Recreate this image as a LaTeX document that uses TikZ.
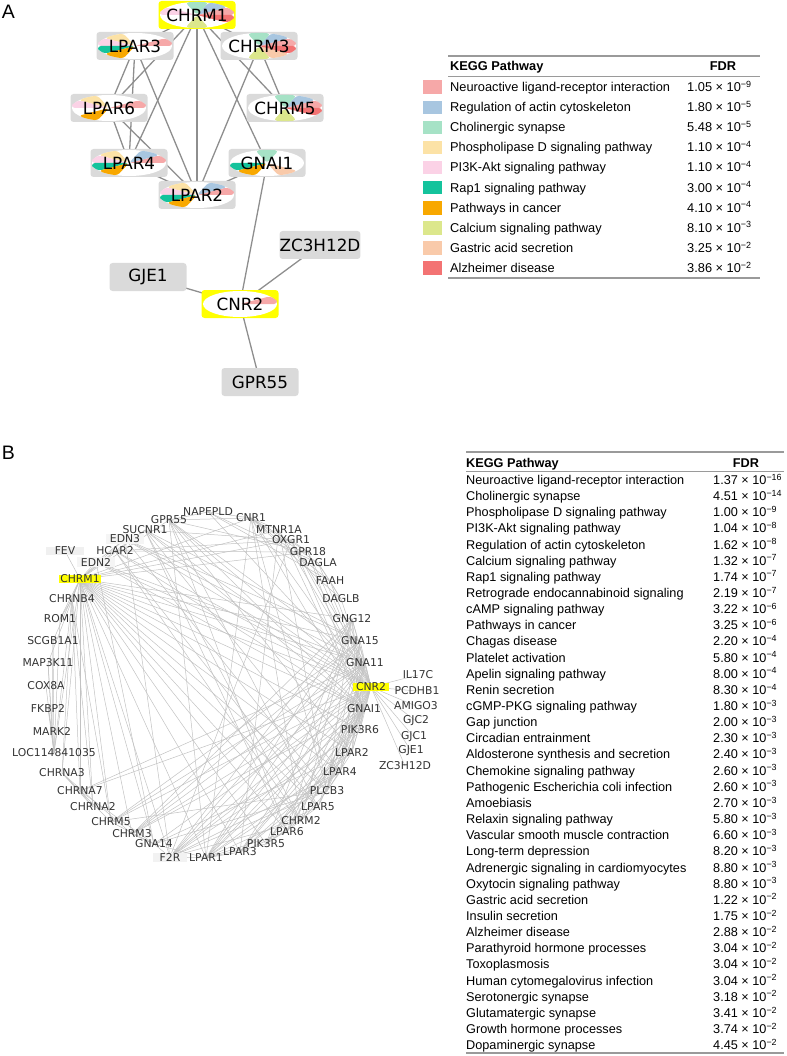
\documentclass[tikz,border=0pt]{standalone}
\usepackage{fontspec}
\setmainfont{Liberation Sans}
\newfontfamily\genefont{DejaVu Sans}
\usetikzlibrary{backgrounds}
\definecolor{boxgray}{HTML}{DADADA}
\definecolor{selyellow}{HTML}{FFFF00}
\definecolor{edgegray}{HTML}{8E8E8E}
\definecolor{netgray}{HTML}{C2C2C2}
\definecolor{rulegray}{HTML}{9A9A9A}
\definecolor{kp0}{HTML}{F6A8A8}
\definecolor{kp1}{HTML}{A8C6E0}
\definecolor{kp2}{HTML}{A6E2C6}
\definecolor{kp3}{HTML}{FCE2A6}
\definecolor{kp4}{HTML}{FBD2E6}
\definecolor{kp5}{HTML}{14C39C}
\definecolor{kp6}{HTML}{F8A800}
\definecolor{kp7}{HTML}{DCE78C}
\definecolor{kp8}{HTML}{F9CAAA}
\definecolor{kp9}{HTML}{F37373}

\begin{document}
\begin{tikzpicture}[x=1pt, y=-1pt,
  keggbox/.style={rectangle, rounded corners=3pt, fill=boxgray, minimum width=77pt,
    minimum height=28pt, inner sep=0pt, font=\genefont\fontsize{16.8}{18}\selectfont},
  selbox/.style={fill=selyellow},
  keggpie/.style={path picture={
    \fill[white] (path picture bounding box.center) ellipse[x radius=37pt, y radius=13pt];
    \foreach \k in {#1}
      \fill[fill=kp\k] (path picture bounding box.center)
        -- ++({cos(36*\k)*37pt},{sin(36*\k)*13pt})
        arc[start angle=36*\k, delta angle=36, x radius=37pt, y radius=13pt] -- cycle;}},
  aedge/.style={edgegray, line width=1.3pt},
  bedge/.style={netgray, line width=0.5pt},
  blabel/.style={inner sep=0.5pt, text=black!80, font=\genefont\fontsize{10.8}{12}\selectfont},
  tab/.style={anchor=base west, inner sep=0pt, font=\fontsize{12.8}{15}\selectfont},
  tabb/.style={anchor=base west, inner sep=0pt, font=\fontsize{12.7}{14}\selectfont},
  panel/.style={font=\fontsize{19.5}{22}\selectfont}]
  \useasboundingbox (0,0) rectangle (786,1056);

  % ---- panel A: network
  \node[panel] (labA) at (8.5,12) {A};
  \node[keggbox, selbox, keggpie={0,1,2,4,7,9}] (CHRM1) at (197,15) {CHRM1};
  \node[keggbox, keggpie={0,3,4,5,6}] (LPAR3) at (135,46) {LPAR3};
  \node[keggbox, keggpie={0,1,2,7,8,9}] (CHRM3) at (259,46) {CHRM3};
  \node[keggbox, keggpie={0,3,4,6}] (LPAR6) at (109,108) {LPAR6};
  \node[keggbox, keggpie={0,1,2,7,9}] (CHRM5) at (285,108) {CHRM5};
  \node[keggbox, keggpie={0,1,3,4,5,6}] (LPAR4) at (129,163) {LPAR4};
  \node[keggbox, keggpie={2,5,6,8}] (GNAI1) at (267,163) {GNAI1};
  \node[keggbox, keggpie={0,1,3,4,5,6}] (LPAR2) at (197,195) {LPAR2};
  \node[keggbox] (ZC3H12D) at (320,245) {ZC3H12D};
  \node[keggbox] (GJE1) at (148,277) {GJE1};
  \node[keggbox, selbox, keggpie={0}] (CNR2) at (240,304) {CNR2};
  \node[keggbox] (GPR55) at (260,382) {GPR55};

  \begin{pgfonlayer}{background}
    \foreach \p/\q in {CHRM1/LPAR2, CHRM1/LPAR4, CHRM1/LPAR6, CHRM1/GNAI1, CHRM1/CHRM5,
        CHRM1/CHRM3, CHRM1/LPAR3, LPAR3/LPAR6, LPAR3/LPAR4, LPAR3/LPAR2, LPAR6/LPAR4,
        LPAR6/LPAR2, LPAR4/LPAR2, CHRM3/CHRM5, CHRM3/LPAR2, GNAI1/LPAR2, GNAI1/CNR2,
        CNR2/GJE1, CNR2/ZC3H12D, CNR2/GPR55}
      \draw[aedge] (\p.center) -- (\q.center);
  \end{pgfonlayer}

  % ---- panel A: table
  \draw[rulegray, line width=1.2pt] (448,56) -- (760,56);
  \draw[rulegray, line width=1pt] (448,77) -- (760,77);
  \node[tab, font=\bfseries\fontsize{12.8}{15}\selectfont] (keggA) at (450,70.6) {KEGG Pathway};
  \node[tab, anchor=base, font=\bfseries\fontsize{12.8}{15}\selectfont] (fdrA) at (723,70.6) {FDR};
  \foreach \kname/\kval/\kexp [count=\i from 0] in {
      Neuroactive ligand-receptor interaction/1.05/9,
      Regulation of actin cytoskeleton/1.80/5,
      Cholinergic synapse/5.48/5,
      Phospholipase D signaling pathway/1.10/4,
      PI3K-Akt signaling pathway/1.10/4,
      Rap1 signaling pathway/3.00/4,
      Pathways in cancer/4.10/4,
      Calcium signaling pathway/8.10/3,
      Gastric acid secretion/3.25/2,
      Alzheimer disease/3.86/2} {
    \fill[fill=kp\i] (423,80.5+20.1*\i) rectangle (442,94+20.1*\i);
    \node[tab] (rowA\i) at (450,91.6+20.1*\i) {\kname};
    \node[tab] (valA\i) at (687,91.6+20.1*\i) {\kval{} × 10\textsuperscript{−\kexp}};
  }
  \draw[rulegray, line width=1.2pt] (448,278) -- (760,278);

  % ---- panel B: network
  \node[panel] (labB) at (8.5,453) {B};
  \foreach \gname/\gx/\gy in {NAPEPLD/208/512, CNR1/251/518, MTNR1A/279/530, OXGR1/291/540,
      GPR18/308/552, DAGLA/318/563, FAAH/330/581, DAGLB/341/599, GNG12/352/619,
      GNA15/360/641, GNA11/365/663, GNAI1/364/709, PIK3R6/360/730, LPAR2/352/752,
      LPAR4/340/772, PLCB3/327/791, LPAR5/318/807, CHRM2/301/821, LPAR6/287/832,
      PIK3R5/266/844, LPAR3/240/852, LPAR1/206/858, GNA14/154/844,
      CHRM3/132/834, CHRM5/111/822, CHRNA2/93/807, CHRNA7/80/791, CHRNA3/62/773,
      LOC114841035/54/753, MARK2/52/731, FKBP2/48/708, COX8A/46/686, MAP3K11/48/663,
      SCGB1A1/53/641, ROM1/60/619, CHRNB4/72/599, HCAR2/115/551,
      SUCNR1/145/530, GPR55/169/520, IL17C/418/675, PCDHB1/417/691,
      AMIGO3/416/706, GJC2/416/721, GJC1/414/737, GJE1/411/751, ZC3H12D/405/766}
    \node[blabel] (b\gname) at (\gx,\gy) {\gname};
  \node[blabel, fill=gray!12, inner xsep=9pt] (bFEV) at (65,551) {FEV};
  \node[blabel, fill=gray!8, inner xsep=4pt] (bEDN2) at (96,562) {EDN2};
  \node[blabel, fill=gray!8, inner xsep=4pt] (bEDN3) at (125,539) {EDN3};
  \node[blabel, fill=gray!10, inner xsep=7pt] (bF2R) at (170,857) {F2R};
  \node[blabel, fill=selyellow, inner ysep=-0.5pt, inner xsep=1.5pt] (bCHRM1) at (80,579) {CHRM1};
  \node[blabel, fill=selyellow, inner ysep=-0.5pt, inner xsep=3pt] (bCNR2) at (371,687) {CNR2};

  \begin{pgfonlayer}{background}
    \foreach \gsrc/\gdsts in {
        CHRM1/{FEV,EDN2,CHRNB4,ROM1,SCGB1A1,MAP3K11,LOC114841035,CHRNA3,CHRNA7,CHRNA2,CHRM5,CHRM3,GNA14,F2R,LPAR1,LPAR3,PIK3R5,LPAR6,CHRM2,LPAR5,PLCB3,LPAR4,LPAR2,PIK3R6,GNAI1,CNR2,GNA11,GNA15,GNG12,GPR18,OXGR1,MTNR1A,CNR1,GPR55,SUCNR1,EDN3,HCAR2},
        CNR2/{IL17C,PCDHB1,AMIGO3,GJC2,GJC1,GJE1,ZC3H12D,CNR1,GPR55,GPR18,DAGLA,DAGLB,FAAH,NAPEPLD,GNAI1,GNA11,GNA14,GNA15,GNG12,PIK3R5,PIK3R6,LPAR1,LPAR2,LPAR3,LPAR4,LPAR5,LPAR6,F2R,CHRM2,CHRM3,CHRM5,PLCB3,HCAR2,MTNR1A,OXGR1,SUCNR1,EDN2,EDN3,CHRNA7},
        GNAI1/{LPAR1,LPAR2,LPAR3,LPAR4,LPAR5,LPAR6,CHRM2,CNR1,GPR55,GPR18,HCAR2,SUCNR1,MTNR1A,OXGR1,F2R,PIK3R5,PIK3R6,GNG12,EDN2,CHRM3},
        GNA11/{LPAR1,LPAR2,LPAR3,LPAR4,LPAR5,LPAR6,CHRM3,CHRM5,F2R,PLCB3,EDN3,EDN2,GPR55,OXGR1,GNG12,CHRNA7},
        GNA14/{CHRM3,CHRM5,LPAR1,LPAR2,F2R,PLCB3,EDN2},
        GNA15/{LPAR1,LPAR2,LPAR4,CHRM3,CHRM5,F2R,PLCB3,SUCNR1,EDN3},
        GNG12/{PIK3R5,PIK3R6,PLCB3,LPAR1,LPAR6,F2R,CHRM2,CHRM3},
        CNR1/{NAPEPLD,DAGLA,DAGLB,FAAH,GPR55,GPR18,MTNR1A,LPAR1,PLCB3,CHRM2},
        GPR55/{NAPEPLD,LPAR1,LPAR5,LPAR6,LPAR2,GPR18},
        DAGLA/{DAGLB,FAAH,NAPEPLD},
        FAAH/{NAPEPLD,DAGLB},
        CHRNB4/{CHRNA3,CHRNA7,CHRNA2,ROM1,CHRM5,LOC114841035},
        CHRNA3/{CHRNA7,CHRNA2,CHRM3},
        CHRNA7/{CHRNA2,CHRM5,GNA14},
        LOC114841035/{ROM1,SCGB1A1,MAP3K11,COX8A,FKBP2,MARK2},
        MARK2/{MAP3K11,FKBP2,SCGB1A1},
        HCAR2/{GPR18,OXGR1,SUCNR1,LPAR5,CHRM2},
        EDN3/{EDN2,F2R,PLCB3},
        LPAR1/{LPAR2,LPAR3,LPAR4,LPAR5,LPAR6,F2R,PIK3R5},
        LPAR3/{LPAR2,LPAR4,LPAR6},
        PIK3R5/{PIK3R6,LPAR5,CHRM2},
        SUCNR1/{OXGR1,LPAR4,CHRM2,LPAR6},
        MTNR1A/{LPAR3,PLCB3},
        OXGR1/{GPR18,F2R},
        F2R/{LPAR4,PLCB3,CHRM2,PIK3R6},
        PLCB3/{LPAR2,LPAR4,CHRM2,CHRM5}}
      \foreach \gdst in \gdsts
        \draw[bedge] (b\gsrc.center) -- (b\gdst.center);
  \end{pgfonlayer}

  % ---- panel B: table
  \draw[rulegray, line width=1.2pt] (466,452) -- (784,452);
  \draw[rulegray, line width=1pt] (466,471.5) -- (784,471.5);
  \node[tabb, font=\bfseries\fontsize{12.7}{14}\selectfont] (keggB) at (466,467.5) {KEGG Pathway};
  \node[tabb, anchor=base, font=\bfseries\fontsize{12.7}{14}\selectfont] (fdrB) at (746,467.5) {FDR};
  \foreach \kname/\kval/\kexp [count=\i from 0] in {
      Neuroactive ligand-receptor interaction/1.37/16,
      Cholinergic synapse/4.51/14,
      Phospholipase D signaling pathway/1.00/9,
      PI3K-Akt signaling pathway/1.04/8,
      Regulation of actin cytoskeleton/1.62/8,
      Calcium signaling pathway/1.32/7,
      Rap1 signaling pathway/1.74/7,
      Retrograde endocannabinoid signaling/2.19/7,
      cAMP signaling pathway/3.22/6,
      Pathways in cancer/3.25/6,
      Chagas disease/2.20/4,
      Platelet activation/5.80/4,
      Apelin signaling pathway/8.00/4,
      Renin secretion/8.30/4,
      cGMP-PKG signaling pathway/1.80/3,
      Gap junction/2.00/3,
      Circadian entrainment/2.30/3,
      Aldosterone synthesis and secretion/2.40/3,
      Chemokine signaling pathway/2.60/3,
      Pathogenic Escherichia coli infection/2.60/3,
      Amoebiasis/2.70/3,
      Relaxin signaling pathway/5.80/3,
      Vascular smooth muscle contraction/6.60/3,
      Long-term depression/8.20/3,
      Adrenergic signaling in cardiomyocytes/8.80/3,
      Oxytocin signaling pathway/8.80/3,
      Gastric acid secretion/1.22/2,
      Insulin secretion/1.75/2,
      Alzheimer disease/2.88/2,
      Parathyroid hormone processes/3.04/2,
      Toxoplasmosis/3.04/2,
      Human cytomegalovirus infection/3.04/2,
      Serotonergic synapse/3.18/2,
      Glutamatergic synapse/3.41/2,
      Growth hormone processes/3.74/2,
      Dopaminergic synapse/4.45/2} {
    \node[tabb] (rowB\i) at (466,484.4+16.15*\i) {\kname};
    \node[tabb] (valB\i) at (713,484.4+16.15*\i) {\kval{} × 10\textsuperscript{−\kexp}};
  }
  \draw[rulegray, line width=1.2pt] (466,1053) -- (784,1053);
\end{tikzpicture}
\end{document}
